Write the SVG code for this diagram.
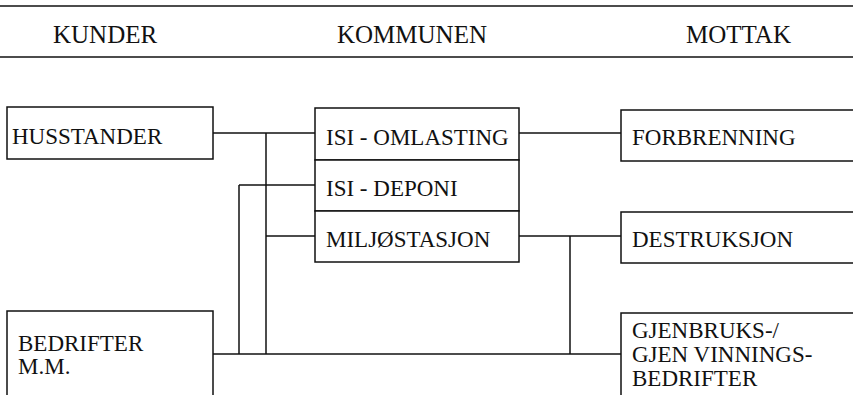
<svg xmlns="http://www.w3.org/2000/svg" width="853" height="395" viewBox="0 0 853 395">
<style>
.bx{fill:#fff;stroke:#111;stroke-width:1.5}
.ln{stroke:#111;stroke-width:1.5;fill:none}
.t{font-family:"Liberation Serif","Times New Roman",serif;font-size:23px;fill:#111}
.h{font-family:"Liberation Serif","Times New Roman",serif;font-size:25px;fill:#111}
</style>
<rect width="853" height="395" fill="#fff"/>
<g id="header">
<line class="ln" x1="0" y1="6" x2="853" y2="6"/>
<line class="ln" x1="0" y1="57" x2="853" y2="57"/>
<text class="h" x="53" y="43">KUNDER</text>
<text class="h" x="337" y="43">KOMMUNEN</text>
<text class="h" x="686" y="43">MOTTAK</text>
</g>
<g id="connectors">
<polyline class="ln" points="213,133 315,133"/>
<polyline class="ln" points="266,133 266,354"/>
<polyline class="ln" points="239,185 315,185"/>
<polyline class="ln" points="239,185 239,354"/>
<polyline class="ln" points="266,236 315,236"/>
<polyline class="ln" points="213,354 621,354"/>
<polyline class="ln" points="519,133 621,133"/>
<polyline class="ln" points="519,236 621,236"/>
<polyline class="ln" points="570,236 570,354"/>
</g>
<g id="husstander">
<rect class="bx" x="7" y="107" width="206" height="52"/>
<text class="t" x="12" y="144">HUSSTANDER</text>
</g>
<g id="bedrifter">
<rect class="bx" x="7" y="311" width="206" height="100"/>
<text class="t" x="18" y="351">BEDRIFTER</text>
<text class="t" x="18" y="374">M.M.</text>
</g>
<g id="isi-omlasting">
<rect class="bx" x="315" y="108" width="204" height="52"/>
<text class="t" x="326" y="145">ISI - OMLASTING</text>
</g>
<g id="isi-deponi">
<rect class="bx" x="315" y="160" width="204" height="51"/>
<text class="t" x="326" y="196">ISI - DEPONI</text>
</g>
<g id="miljostasjon">
<rect class="bx" x="315" y="211" width="204" height="51"/>
<text class="t" x="326" y="247">MILJØSTASJON</text>
</g>
<g id="forbrenning">
<rect class="bx" x="621" y="110" width="250" height="51"/>
<text class="t" x="632" y="145">FORBRENNING</text>
</g>
<g id="destruksjon">
<rect class="bx" x="621" y="212" width="250" height="51"/>
<text class="t" x="632" y="247">DESTRUKSJON</text>
</g>
<g id="gjenbruk">
<rect class="bx" x="621" y="313" width="250" height="100"/>
<text class="t" x="632" y="338">GJENBRUKS-/</text>
<text class="t" x="632" y="362">GJEN VINNINGS-</text>
<text class="t" x="632" y="386">BEDRIFTER</text>
</g>
</svg>
